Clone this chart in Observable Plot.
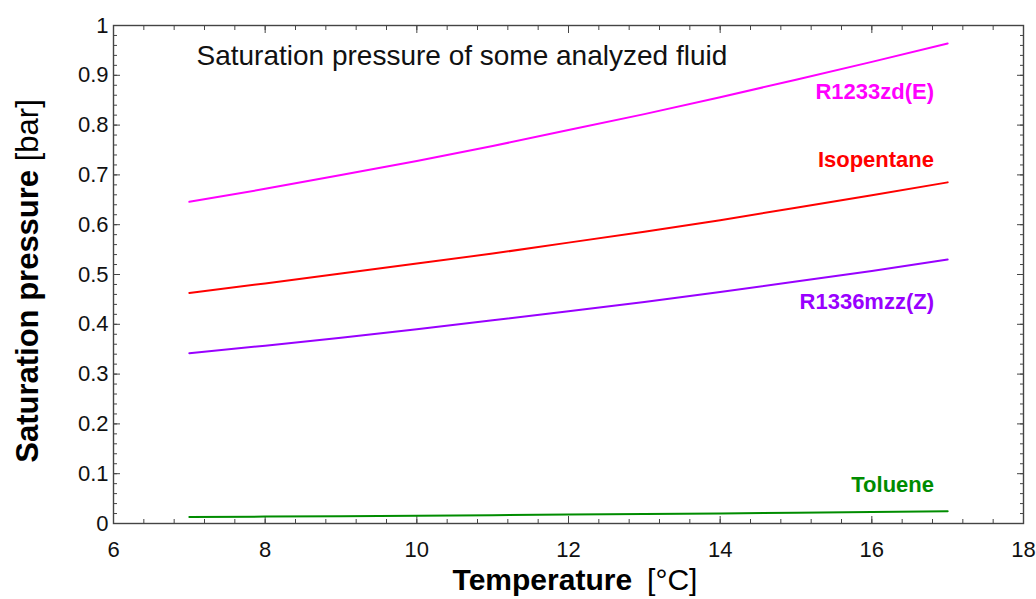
<!DOCTYPE html>
<html>
<head>
<meta charset="utf-8">
<script src="https://cdn.jsdelivr.net/npm/d3@7"></script>
<script src="https://cdn.jsdelivr.net/npm/@observablehq/plot@0.6"></script>
<style>
  html, body { margin: 0; padding: 0; background: #fff; }
  #chart svg { display: block; }
</style>
</head>
<body>
<div id="chart"></div>
<script>
// Temperature [°C]
const temps = [7, 8, 9, 10, 11, 12, 13, 14, 15, 16, 17];
// Saturation pressure [bar]
const r1233zdE = [0.646, 0.672, 0.700, 0.728, 0.758, 0.790, 0.822, 0.856, 0.891, 0.927, 0.964];
const isopentane = [0.463, 0.482, 0.502, 0.522, 0.542, 0.564, 0.586, 0.609, 0.634, 0.659, 0.685];
const r1336mzzZ = [0.342, 0.357, 0.373, 0.390, 0.408, 0.426, 0.445, 0.465, 0.486, 0.507, 0.530];
const toluene = [0.0130, 0.0139, 0.0148, 0.0157, 0.0168, 0.0179, 0.0191, 0.0203, 0.0217, 0.0231, 0.0247];

const fluidNames = ["R1233zd(E)", "Isopentane", "R1336mzz(Z)", "Toluene"];
const fluidValues = [r1233zdE, isopentane, r1336mzzZ, toluene];
const fluidColors = ["#ff00ff", "#ff0000", "#9900ff", "#008c00"];
// label anchor points (data units)
const labelX = [16.82, 16.82, 16.82, 16.82];
const labelY = [0.867, 0.731, 0.444, 0.077];

const xMajor = [6, 8, 10, 12, 14, 16, 18];
const xMinor = d3.range(0, 31).map(i => 6 + i * 0.4);
const yMajor = [0, 0.1, 0.2, 0.3, 0.4, 0.5, 0.6, 0.7, 0.8, 0.9, 1];
const yMinor = d3.range(0, 51).map(i => i * 0.02);

const titleText = "Saturation pressure of some analyzed fluid";

const rows = [];
fluidNames.forEach((name, k) => {
  temps.forEach((t, i) => rows.push({fluid: name, t, p: fluidValues[k][i]}));
});
const labels = fluidNames.map((name, k) => ({fluid: name, x: labelX[k], y: labelY[k]}));

const axisColor = "#444";
const fmt = d => String(+(+d).toFixed(2));
const font = "'Liberation Sans', Arial, sans-serif";

const plot = Plot.plot({
  width: 1036,
  height: 599,
  marginLeft: 113,
  marginRight: 13,
  marginTop: 25,
  marginBottom: 76,
  style: {fontFamily: font, color: "#000", background: "#fff"},
  x: {domain: [6, 18], label: null},
  y: {domain: [0, 1], label: null},
  color: {domain: fluidNames, range: fluidColors},
  marks: [
    // ticks (inward, mirrored)
    Plot.axisX(xMinor, {anchor: "bottom", tickSize: -4, fill: "none", stroke: axisColor, label: null}),
    Plot.axisX(xMajor, {anchor: "bottom", tickSize: -7, fill: "none", stroke: axisColor, label: null}),
    Plot.axisX(xMinor, {anchor: "top", tickSize: -4, fill: "none", stroke: axisColor, label: null}),
    Plot.axisX(xMajor, {anchor: "top", tickSize: -7, fill: "none", stroke: axisColor, label: null}),
    Plot.axisY(yMinor, {anchor: "left", tickSize: -4, fill: "none", stroke: axisColor, label: null}),
    Plot.axisY(yMajor, {anchor: "left", tickSize: -7, fill: "none", stroke: axisColor, label: null}),
    Plot.axisY(yMinor, {anchor: "right", tickSize: -4, fill: "none", stroke: axisColor, label: null}),
    Plot.axisY(yMajor, {anchor: "right", tickSize: -7, fill: "none", stroke: axisColor, label: null}),
    // tick labels
    Plot.axisX(xMajor, {anchor: "bottom", tickSize: 0, tickPadding: 18, fontSize: 22, fill: "#111", tickFormat: fmt, label: null}),
    Plot.axisY(yMajor, {anchor: "left", tickSize: 0, tickPadding: 5, fontSize: 22, fill: "#111", tickFormat: fmt, label: null}),
    Plot.frame({stroke: axisColor, strokeWidth: 1.4}),
    Plot.line(rows, {x: "t", y: "p", z: "fluid", stroke: "fluid", strokeWidth: 2}),
    Plot.text(labels, {x: "x", y: "y", text: "fluid", fill: "fluid", textAnchor: "end", fontWeight: "bold", fontSize: 22}),
    Plot.text([titleText], {frameAnchor: "top-left", dx: 83, dy: 20, fontSize: 28, fill: "#111", text: d => d, lineAnchor: "top"})
  ]
});

document.getElementById("chart").appendChild(plot);

// Axis titles with mixed weights
const svg = d3.select(plot);
const xs = plot.scale("x"), ys = plot.scale("y");
const xMid = (xs.range[0] + xs.range[1]) / 2;
const yMid = (ys.range[0] + ys.range[1]) / 2;

const xl = svg.append("text")
  .attr("x", xMid + 7).attr("y", ys.range[0] + 67)
  .attr("text-anchor", "middle")
  .attr("font-size", 30).attr("fill", "#000")
  .attr("font-family", font);
xl.append("tspan").attr("font-weight", "bold").text("Temperature");
xl.append("tspan").attr("font-weight", "normal").text("\u2002[°C]");

const yl = svg.append("text")
  .attr("transform", `translate(${xs.range[0] - 75},${yMid + 7}) rotate(-90)`)
  .attr("text-anchor", "middle")
  .attr("font-size", 31).attr("fill", "#000")
  .attr("font-family", font);
yl.append("tspan").attr("font-weight", "bold").text("Saturation pressure");
yl.append("tspan").attr("font-weight", "normal").text(" [bar]");
</script>
</body>
</html>
